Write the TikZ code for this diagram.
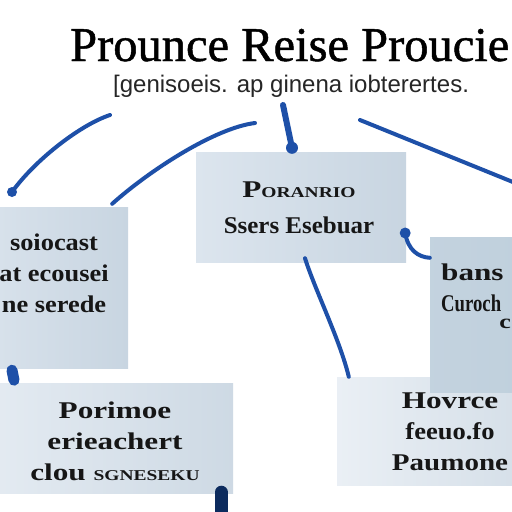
\documentclass[tikz,border=0pt]{standalone}
\usepackage{fontspec}
\setmainfont{Liberation Serif}
\newfontfamily\titlefont{Liberation Serif}[FakeBold=1]
\newfontfamily\cardfont{Liberation Serif}[FakeStretch=1.3]
\newfontfamily\narrowcard{Liberation Serif}[FakeStretch=1.1]
\newfontfamily\subfont{Liberation Sans}
\usetikzlibrary{positioning, calc}
\definecolor{linkblue}{HTML}{1E50A8}
\definecolor{navy}{HTML}{0C2B5E}
\definecolor{inkblack}{HTML}{161616}
\definecolor{subgray}{HTML}{262626}
\definecolor{cardlight}{HTML}{DCE5EE}
\definecolor{carddark}{HTML}{C8D5E1}
\definecolor{slate}{HTML}{BDCEDB}
\newcommand\capsmall{\fontsize{15}{15}\selectfont}

\begin{document}
\begin{tikzpicture}[
  x=1pt, y=-1pt,
  card/.style={rectangle, inner sep=0pt, left color=cardlight, right color=carddark},
  cardtext/.style={text=inkblack, inner sep=0pt, align=center,
    font=\cardfont\fontsize{24}{31}\bfseries},
  link/.style={draw=linkblue, line width=4pt, line cap=round},
]

% Canvas
\fill[white] (0,0) rectangle (512,512);
\clip (0,0) rectangle (512,512);

% Title and subtitle
\node[font=\titlefont\fontsize{48.5}{48.5}\selectfont, text=black, inner sep=0pt, anchor=base west]
  (title) at (70,61) {Prounce Reise Proucie};
\node[font=\subfont\fontsize{24}{24}\selectfont, text=subgray, inner sep=0pt, anchor=base west]
  (subtitle) at (113,92) {[genisoeis. ap ginena iobterertes.};

% Cards
\node[card, minimum width=172pt, minimum height=161pt] (lbox) at (42,287.5) {};
\node[card, minimum width=210pt, minimum height=110pt] (cbox) at (301,207) {};
\node[card, minimum width=233pt, minimum height=110pt,
  left color=cardlight!80!white, right color=carddark!90!white] (blbox) at (116.5,438) {};
\node[card, minimum width=228pt, minimum height=108pt,
  left color=cardlight!60!white, right color=carddark!85!white] (brbox) at (451,431) {};
\node[card, minimum width=170pt, minimum height=155pt,
  left color=slate!80!cardlight, right color=slate] (rbox) at (515,314.5) {};

% Card texts
\node[cardtext, font=\narrowcard\fontsize{24}{31}\bfseries] (ltext) at (54,273)
  {soiocast\\at ecousei\\ne serede};
\node[cardtext, font=\cardfont\fontsize{24}{36}\bfseries] (ctext) at (299,207.5)
  {P{\capsmall ORANRIO}\\\scalebox{0.8}[1]{Ssers Esebuar}};
\node[cardtext, align=left, anchor=north west] (rtext) at (441,264)
  {bans\\\scalebox{0.6}[1]{Curoch}};
\node[cardtext, font=\cardfont\fontsize{20}{20}\bfseries, anchor=north east] (rtail) at (511,319) {c};
\node[cardtext] (bltext) at (115,441) {Porimoe\\erieachert\\clou {\capsmall SGNESEKU}};
\node[cardtext] (brtext) at (450,432)
  {Hovrce\\\scalebox{0.85}[1]{feeuo.fo}\\\scalebox{0.93}[1]{Paumone}};

% Connectors
\coordinate (a start) at (110,115);
\coordinate (a end) at (12,192);
\draw[link] (a start) .. controls (80,125) and (35,160) .. (a end);
\fill[linkblue] (a end) circle (5pt);

\coordinate (b start) at (255,123);
\coordinate (b end) at ([xshift=-16pt, yshift=3pt]lbox.north east);
\draw[link] (b start) .. controls (215,128) and (150,170) .. (b end);

\coordinate (c start) at (283,105);
\coordinate (c end) at ([xshift=-9pt, yshift=4pt]cbox.north);
\draw[link, line width=6pt] (c start) -- (c end);
\fill[linkblue] (c end) circle (6pt);

\coordinate (d start) at (360,120);
\coordinate (d end) at (540,193);
\draw[link] (d start) -- (d end);

\coordinate (e start) at ([xshift=-1pt, yshift=-26pt]cbox.east);
\draw[link] (e start) .. controls (408,250) and (418,257) .. ([yshift=-21pt]rbox.north west);
\fill[linkblue] (e start) circle (5.5pt);

\draw[link] ([xshift=4pt, yshift=4pt]cbox.south) .. controls (315,290) and (340,340)
  .. ([xshift=12pt]brbox.north west);

\draw[link, line width=11pt] ([xshift=-30pt, yshift=-2pt]lbox.south) -- ([xshift=-28pt, yshift=-12pt]lbox.south);
\draw[navy, line width=13pt, line cap=round] ([xshift=-12pt, yshift=1pt]blbox.south east) -- ++(0,30);

\end{tikzpicture}
\end{document}
